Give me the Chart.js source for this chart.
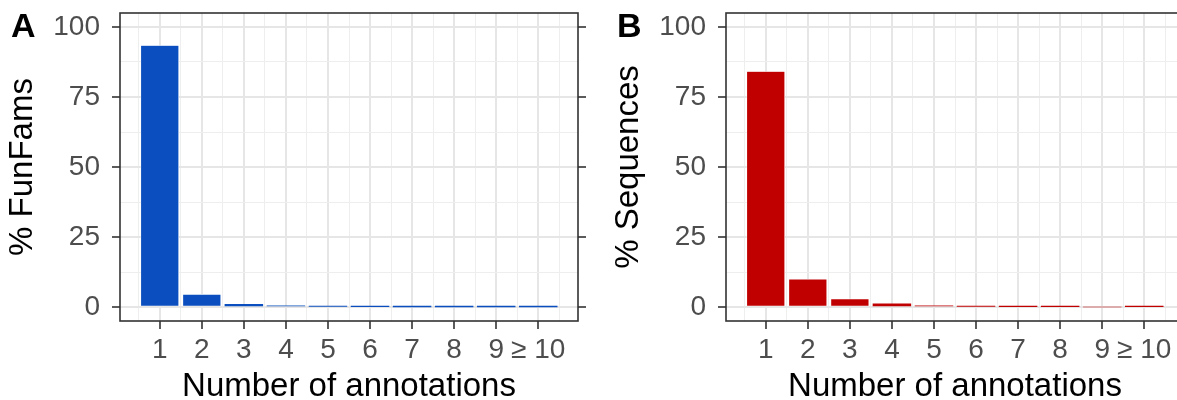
<!DOCTYPE html>
<html>
<head>
<meta charset="utf-8">
<script src="https://cdn.jsdelivr.net/npm/chart.js@4.4.1/dist/chart.umd.min.js"></script>
<style>
  html, body { margin: 0; padding: 0; background: #fff; overflow: hidden; }
  #wrap { position: relative; width: 1177px; height: 400px; overflow: hidden; }
  canvas { position: absolute; top: 0; }
  #panelA { left: 0; }
  #panelB { left: 606px; }
</style>
</head>
<body>
<div id="wrap">
  <canvas id="panelA" width="606" height="400"></canvas>
  <canvas id="panelB" width="606" height="400"></canvas>
</div>
<script>
// number of annotations (last bin means 10 or more)
const annotationCounts = [1, 2, 3, 4, 5, 6, 7, 8, 9, 10];
const xTickLabels = ["1", "2", "3", "4", "5", "6", "7", "8", "9", "\u2265 10"];

// percentages
const funFamPct = [93.4, 4.5, 0.95, 0.4, 0.2, 0.1, 0.01, 0.01, 0.01, 0.01];
const sequencePct = [84.1, 9.9, 2.9, 1.1, 0.4, 0.2, 0.15, 0.15, 0, 0.15];

const yTickValues = [0, 25, 50, 75, 100];

const FONT = '"Liberation Sans", Arial, Helvetica, sans-serif';
const INK = '#333333';

// major gridlines on the breaks, minor ones half way between (ggplot style)
const xGrid = [];
annotationCounts.forEach(c => xGrid.push(c - 0.5, c));
xGrid.push(annotationCounts[annotationCounts.length - 1] + 0.5);
const yGrid = [];
yTickValues.forEach((v, i) => {
  yGrid.push(v);
  if (i < yTickValues.length - 1) yGrid.push((v + yTickValues[i + 1]) / 2);
});

const isMajorX = v => annotationCounts.includes(v);
const isMajorY = v => yTickValues.includes(v);

function gridStyle(isMajor) {
  return {
    color: ctx => isMajor(ctx.tick.value) ? '#e6e6e6' : '#eeeeee',
    lineWidth: ctx => isMajor(ctx.tick.value) ? 2 : 1,
    tickLength: 8,
    tickWidth: 1.6,
    tickColor: ctx => isMajor(ctx.tick.value) ? INK : 'rgba(0,0,0,0)'
  };
}

// no extra room for labels that stick out past the panel
function noOverhang(s) {
  s.paddingTop = 0;
  s.paddingBottom = 0;
  s.paddingLeft = 0;
  s.paddingRight = 0;
}

// panel border + the A / B tag
const panelFrame = {
  id: 'panelFrame',
  afterDraw(chart, args, opts) {
    const { ctx, chartArea: a } = chart;
    ctx.save();
    ctx.strokeStyle = INK;
    ctx.lineWidth = 1.6;
    ctx.strokeRect(a.left, a.top, a.right - a.left, a.bottom - a.top);
    ctx.fillStyle = '#000';
    ctx.font = 'bold 34px ' + FONT;
    ctx.textBaseline = 'alphabetic';
    ctx.fillText(opts.letter, 11, 37);
    ctx.restore();
  }
};

function makePanel(canvasId, values, color, yTitle, letter) {
  return new Chart(document.getElementById(canvasId), {
    type: 'bar',
    data: {
      datasets: [{
        data: annotationCounts.map((c, i) => ({ x: c, y: values[i] })),
        backgroundColor: color,
        borderColor: '#ffffff',
        // white outline only where the bar is tall enough to show it
        borderWidth: ctx => (ctx.raw && ctx.raw.y >= 2) ? 0.6 : 0,
        borderSkipped: false,
        barThickness: 'flex',
        categoryPercentage: 1,
        barPercentage: 0.9
      }]
    },
    options: {
      responsive: false,
      animation: false,
      devicePixelRatio: 1,
      layout: { padding: { top: 13, left: 0, right: 0, bottom: 0 } },
      plugins: {
        legend: { display: false },
        tooltip: { enabled: false },
        panelFrame: { letter: letter }
      },
      scales: {
        x: {
          type: 'linear',
          min: 0.055,
          max: 10.945,
          offset: false,
          afterBuildTicks: s => { s.ticks = xGrid.map(v => ({ value: v })); },
          afterFit: s => { s.height = 79; noOverhang(s); },
          grid: Object.assign({ offset: false }, gridStyle(isMajorX)),
          border: { display: false },
          ticks: {
            autoSkip: false,
            maxRotation: 0,
            padding: 4,
            color: '#4d4d4d',
            font: { family: FONT, size: 28 },
            callback: v => isMajorX(v) ? xTickLabels[annotationCounts.indexOf(v)] : ''
          },
          title: {
            display: true,
            text: 'Number of annotations',
            color: '#000',
            font: { family: FONT, size: 33, lineHeight: 1 },
            padding: { top: 0, bottom: -3 }
          }
        },
        y: {
          type: 'linear',
          position: 'left',
          min: -5,
          max: 105,
          afterBuildTicks: s => { s.ticks = yGrid.map(v => ({ value: v })); },
          afterFit: s => { s.width = 120; noOverhang(s); },
          grid: gridStyle(isMajorY),
          border: { display: false },
          ticks: {
            padding: 12,
            color: '#4d4d4d',
            font: { family: FONT, size: 28 },
            callback: v => isMajorY(v) ? String(v) : ''
          },
          title: {
            display: true,
            text: yTitle,
            color: '#000',
            font: { family: FONT, size: 33, lineHeight: 1 },
            padding: { top: 6, bottom: 0 }
          }
        },
        yRight: {
          type: 'linear',
          position: 'right',
          min: -5,
          max: 105,
          afterBuildTicks: s => { s.ticks = yGrid.map(v => ({ value: v })); },
          afterFit: s => { s.width = 28; noOverhang(s); },
          grid: Object.assign({ drawOnChartArea: false }, gridStyle(isMajorY)),
          border: { display: false },
          ticks: { display: false }
        }
      }
    },
    plugins: [panelFrame]
  });
}

makePanel('panelA', funFamPct, '#0a4ebf', '% FunFams', 'A');
makePanel('panelB', sequencePct, '#c00000', '% Sequences', 'B');
</script>
</body>
</html>
